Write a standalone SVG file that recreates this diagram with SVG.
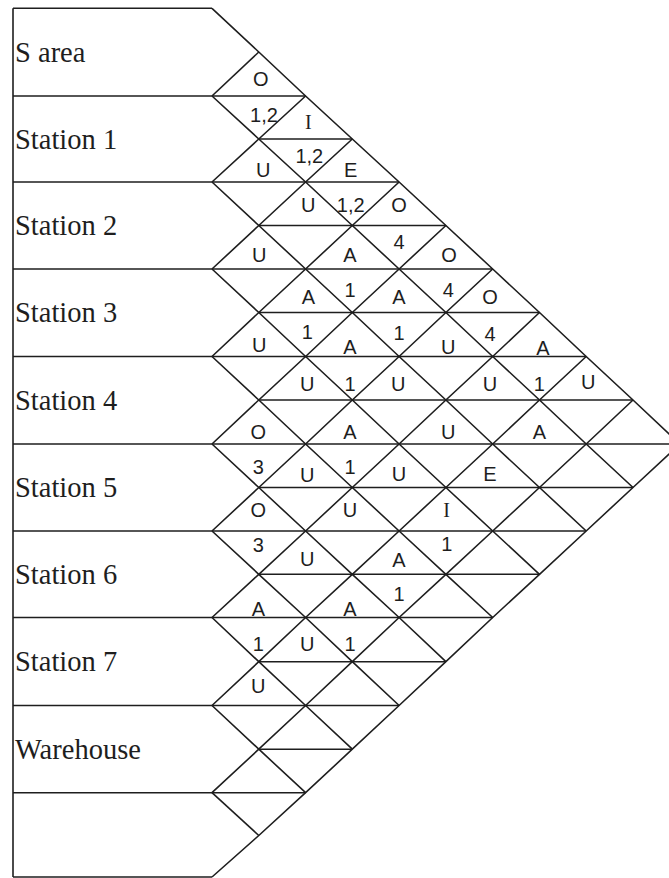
<svg xmlns="http://www.w3.org/2000/svg" width="669" height="878" viewBox="0 0 669 878">
<style>
.ln{fill:none;stroke:#1e1e1e;stroke-width:1.6;stroke-linejoin:miter}
.lbl{font-family:"Liberation Serif","Times New Roman",serif;font-size:28.5px;fill:#1e1e1e}
.r{font-family:"Liberation Sans",Arial,sans-serif;font-size:20px;fill:#1e1e1e;text-anchor:middle}
.rs{font-family:"Liberation Serif","Times New Roman",serif;font-size:20px;fill:#1e1e1e;text-anchor:middle}
</style>
<rect width="669" height="878" fill="#ffffff"/>
<g id="connectors">
<line class="ln" x1="13" y1="8.3" x2="13" y2="877"/>
<line class="ln" x1="13" y1="8.3" x2="212" y2="8.3"/>
<line class="ln" x1="13" y1="96" x2="305.6" y2="96"/>
<line class="ln" x1="258.8" y1="139" x2="352.3" y2="139"/>
<line class="ln" x1="13" y1="182" x2="399.1" y2="182"/>
<line class="ln" x1="258.8" y1="225.5" x2="445.9" y2="225.5"/>
<line class="ln" x1="13" y1="269" x2="492.7" y2="269"/>
<line class="ln" x1="258.8" y1="312.5" x2="539.5" y2="312.5"/>
<line class="ln" x1="13" y1="356.5" x2="586.2" y2="356.5"/>
<line class="ln" x1="258.8" y1="400" x2="633" y2="400"/>
<line class="ln" x1="13" y1="444" x2="679.8" y2="444"/>
<line class="ln" x1="258.8" y1="487.5" x2="633" y2="487.5"/>
<line class="ln" x1="13" y1="531" x2="586.2" y2="531"/>
<line class="ln" x1="258.8" y1="574.3" x2="539.5" y2="574.3"/>
<line class="ln" x1="13" y1="617.5" x2="492.7" y2="617.5"/>
<line class="ln" x1="258.8" y1="661.7" x2="445.9" y2="661.7"/>
<line class="ln" x1="13" y1="705.5" x2="399.1" y2="705.5"/>
<line class="ln" x1="258.8" y1="749.2" x2="352.3" y2="749.2"/>
<line class="ln" x1="13" y1="792.7" x2="305.6" y2="792.7"/>
<line class="ln" x1="13" y1="877" x2="212" y2="877"/>
<polyline class="ln" points="212,8.3 258.8,52 305.6,96 352.3,139 399.1,182 445.9,225.5 492.7,269 539.5,312.5 586.2,356.5 633,400 679.8,444"/>
<polyline class="ln" points="212,96 258.8,139 305.6,182 352.3,225.5 399.1,269 445.9,312.5 492.7,356.5 539.5,400 586.2,444 633,487.5"/>
<polyline class="ln" points="212,182 258.8,225.5 305.6,269 352.3,312.5 399.1,356.5 445.9,400 492.7,444 539.5,487.5 586.2,531"/>
<polyline class="ln" points="212,269 258.8,312.5 305.6,356.5 352.3,400 399.1,444 445.9,487.5 492.7,531 539.5,574.3"/>
<polyline class="ln" points="212,356.5 258.8,400 305.6,444 352.3,487.5 399.1,531 445.9,574.3 492.7,617.5"/>
<polyline class="ln" points="212,444 258.8,487.5 305.6,531 352.3,574.3 399.1,617.5 445.9,661.7"/>
<polyline class="ln" points="212,531 258.8,574.3 305.6,617.5 352.3,661.7 399.1,705.5"/>
<polyline class="ln" points="212,617.5 258.8,661.7 305.6,705.5 352.3,749.2"/>
<polyline class="ln" points="212,705.5 258.8,749.2 305.6,792.7"/>
<polyline class="ln" points="212,792.7 258.8,835.5"/>
<polyline class="ln" points="212,96 258.8,52"/>
<polyline class="ln" points="212,182 258.8,139 305.6,96"/>
<polyline class="ln" points="212,269 258.8,225.5 305.6,182 352.3,139"/>
<polyline class="ln" points="212,356.5 258.8,312.5 305.6,269 352.3,225.5 399.1,182"/>
<polyline class="ln" points="212,444 258.8,400 305.6,356.5 352.3,312.5 399.1,269 445.9,225.5"/>
<polyline class="ln" points="212,531 258.8,487.5 305.6,444 352.3,400 399.1,356.5 445.9,312.5 492.7,269"/>
<polyline class="ln" points="212,617.5 258.8,574.3 305.6,531 352.3,487.5 399.1,444 445.9,400 492.7,356.5 539.5,312.5"/>
<polyline class="ln" points="212,705.5 258.8,661.7 305.6,617.5 352.3,574.3 399.1,531 445.9,487.5 492.7,444 539.5,400 586.2,356.5"/>
<polyline class="ln" points="212,792.7 258.8,749.2 305.6,705.5 352.3,661.7 399.1,617.5 445.9,574.3 492.7,531 539.5,487.5 586.2,444 633,400"/>
<polyline class="ln" points="212,877 258.8,835.5 305.6,792.7 352.3,749.2 399.1,705.5 445.9,661.7 492.7,617.5 539.5,574.3 586.2,531 633,487.5 679.8,444"/>
</g>
<g id="row-s-area"><text class="lbl" x="15" y="61.7">S area</text></g>
<g id="row-station-1"><text class="lbl" x="15" y="148.5">Station 1</text></g>
<g id="row-station-2"><text class="lbl" x="15" y="235">Station 2</text></g>
<g id="row-station-3"><text class="lbl" x="15" y="322.3">Station 3</text></g>
<g id="row-station-4"><text class="lbl" x="15" y="409.8">Station 4</text></g>
<g id="row-station-5"><text class="lbl" x="15" y="497">Station 5</text></g>
<g id="row-station-6"><text class="lbl" x="15" y="583.8">Station 6</text></g>
<g id="row-station-7"><text class="lbl" x="15" y="671.3">Station 7</text></g>
<g id="row-warehouse"><text class="lbl" x="15" y="758.6">Warehouse</text></g>
<g id="ratings">
<text class="r" x="260.7" y="86">O</text>
<text class="r" x="264" y="121.5">1,2</text>
<text class="rs" x="308.3" y="128.5">I</text>
<text class="r" x="309.3" y="163">1,2</text>
<text class="r" x="263.3" y="177">U</text>
<text class="r" x="350.7" y="177">E</text>
<text class="r" x="308.3" y="212">U</text>
<text class="r" x="350.7" y="212">1,2</text>
<text class="r" x="399" y="212">O</text>
<text class="r" x="259.3" y="262">U</text>
<text class="r" x="350" y="262">A</text>
<text class="r" x="399" y="249">4</text>
<text class="r" x="449" y="261.5">O</text>
<text class="r" x="448.3" y="297">4</text>
<text class="r" x="490" y="304">O</text>
<text class="r" x="308.3" y="304">A</text>
<text class="r" x="350" y="297">1</text>
<text class="r" x="399" y="304">A</text>
<text class="r" x="259.3" y="352">U</text>
<text class="r" x="307.3" y="339">1</text>
<text class="r" x="350" y="354">A</text>
<text class="r" x="399" y="339.5">1</text>
<text class="r" x="448.3" y="354">U</text>
<text class="r" x="490" y="340.5">4</text>
<text class="r" x="543" y="354.5">A</text>
<text class="r" x="307.3" y="390.5">U</text>
<text class="r" x="350" y="390.5">1</text>
<text class="r" x="398.3" y="390.5">U</text>
<text class="r" x="490" y="390.5">U</text>
<text class="r" x="539.3" y="390.5">1</text>
<text class="r" x="588.3" y="389">U</text>
<text class="r" x="258.3" y="439">O</text>
<text class="r" x="350" y="439">A</text>
<text class="r" x="448.3" y="439">U</text>
<text class="r" x="539.3" y="439">A</text>
<text class="r" x="258.3" y="474">3</text>
<text class="r" x="307.3" y="482">U</text>
<text class="r" x="350" y="474">1</text>
<text class="r" x="399" y="480.5">U</text>
<text class="r" x="490" y="480.5">E</text>
<text class="r" x="258.3" y="517">O</text>
<text class="r" x="350" y="517">U</text>
<text class="rs" x="446.7" y="517">I</text>
<text class="r" x="258.3" y="552">3</text>
<text class="r" x="307.3" y="565.5">U</text>
<text class="r" x="399" y="567">A</text>
<text class="r" x="446.7" y="550.5">1</text>
<text class="r" x="258.3" y="615.5">A</text>
<text class="r" x="350" y="615.5">A</text>
<text class="r" x="399" y="600.5">1</text>
<text class="r" x="258.3" y="650.5">1</text>
<text class="r" x="307.3" y="650.5">U</text>
<text class="r" x="350" y="650.5">1</text>
<text class="r" x="258.3" y="693">U</text>
</g>
</svg>
